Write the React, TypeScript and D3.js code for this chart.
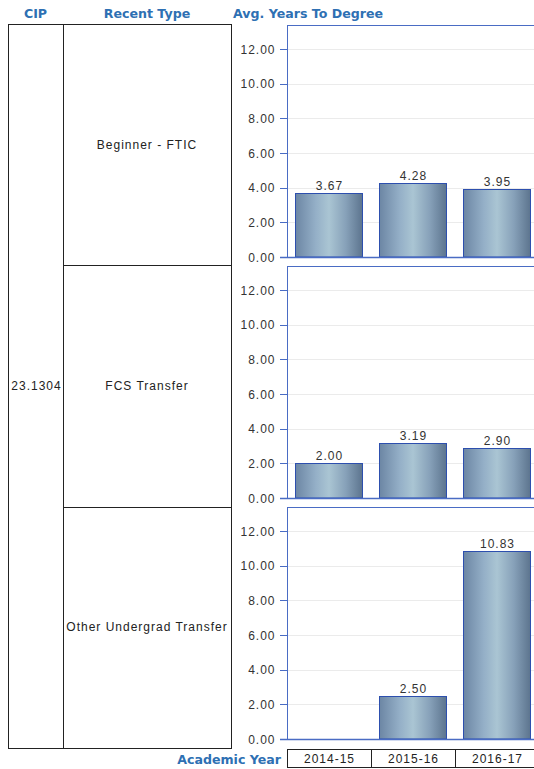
import React from "react";
import * as d3 from "d3";

const cip = "23.1304";
const recentTypes = ["Beginner - FTIC", "FCS Transfer", "Other Undergrad Transfer"];
const years = ["2014-15", "2015-16", "2016-17"];
const beginnerValues: (number | null)[] = [3.67, 4.28, 3.95];
const fcsValues: (number | null)[] = [2.0, 3.19, 2.9];
const otherValues: (number | null)[] = [null, 2.5, 10.83];
const yTicks = [0, 2, 4, 6, 8, 10, 12];

const seriesByType = [beginnerValues, fcsValues, otherValues];

const W = 534;
const H = 769;
const headerBlue = "#2e70b3";
const axisBlue = "#4a6cc4";
const barStroke = "#2d4fae";
const headFont = "DejaVu Sans, Verdana, sans-serif";
const bodyFont = "Liberation Sans, Arial, sans-serif";
const ls = 1;

const tableLeft = 8;
const col1 = 63;
const tableRight = 231;
const tableTop = 24;
const tableBottom = 748;

const panelLeft = 287;
const panelRight = 539;
const panelTops = [25, 266, 507];
const panelH = 232;

export default function App() {
  const x = d3
    .scaleBand<string>()
    .domain(years)
    .range([panelLeft, panelRight])
    .paddingInner(16 / 84)
    .paddingOuter(8 / 84);

  const rowY = d3
    .scaleBand<string>()
    .domain(recentTypes)
    .range([tableTop, tableBottom]);

  return (
    <svg
      width={W}
      height={H}
      style={{ position: "absolute", left: 0, top: 0, overflow: "hidden" }}
      fontFamily={bodyFont}
    >
      <defs>
        <linearGradient id="barGrad" x1="0" x2="1" y1="0" y2="0">
          <stop offset="0" stopColor="#6c86a4" />
          <stop offset="0.3" stopColor="#94afc7" />
          <stop offset="0.5" stopColor="#aac5d3" />
          <stop offset="0.75" stopColor="#87a1b9" />
          <stop offset="1" stopColor="#5c748e" />
        </linearGradient>
      </defs>
      <rect x={0} y={0} width={W} height={H} fill="#fff" />

      {/* headers */}
      <g fontWeight="bold" fontSize={12.6} fill={headerBlue} fontFamily={headFont}>
        <text x={(tableLeft + col1) / 2} y={18} textAnchor="middle">CIP</text>
        <text x={(col1 + tableRight) / 2} y={18} textAnchor="middle">Recent Type</text>
        <text x={233} y={18}>Avg. Years To Degree</text>
        <text x={281} y={764} textAnchor="end">Academic Year</text>
      </g>

      {/* left table */}
      <g stroke="#222" fill="none" strokeWidth={1}>
        <rect
          x={tableLeft + 0.5}
          y={tableTop + 0.5}
          width={tableRight - tableLeft}
          height={tableBottom - tableTop}
        />
        <line x1={col1 + 0.5} x2={col1 + 0.5} y1={tableTop} y2={tableBottom} />
        {recentTypes.slice(1).map((t) => (
          <line
            key={t}
            x1={col1}
            x2={tableRight}
            y1={Math.round(rowY(t)!) + 0.5}
            y2={Math.round(rowY(t)!) + 0.5}
          />
        ))}
      </g>
      <g fontSize={12} fill="#222" letterSpacing={ls}>
        <text x={(tableLeft + col1) / 2 + 1} y={(tableTop + tableBottom) / 2 + 4} textAnchor="middle">
          {cip}
        </text>
        {recentTypes.map((t) => (
          <text
            key={t}
            x={(col1 + tableRight) / 2}
            y={rowY(t)! + rowY.bandwidth() / 2 + 4}
            textAnchor="middle"
          >
            {t}
          </text>
        ))}
      </g>

      {/* panels */}
      {seriesByType.map((vals, i) => {
        const top = panelTops[i];
        const bottom = top + panelH;
        const y = d3.scaleLinear().domain([0, 13.4]).range([bottom, top]);
        return (
          <g key={i}>
            {yTicks.slice(1).map((t) => (
              <line
                key={t}
                x1={panelLeft}
                x2={panelRight}
                y1={Math.round(y(t)) + 0.5}
                y2={Math.round(y(t)) + 0.5}
                stroke="#ebebeb"
              />
            ))}
            <line x1={panelLeft + 0.5} x2={panelLeft + 0.5} y1={top} y2={bottom} stroke={axisBlue} />
            <line x1={panelLeft} x2={panelRight} y1={top + 0.5} y2={top + 0.5} stroke={axisBlue} />
            <line x1={panelRight - 0.5} x2={panelRight - 0.5} y1={top} y2={bottom} stroke={axisBlue} />
            {yTicks.map((t) => (
              <g key={t}>
                <line
                  x1={280}
                  x2={panelLeft}
                  y1={Math.round(y(t)) + 0.5}
                  y2={Math.round(y(t)) + 0.5}
                  stroke={axisBlue}
                />
                <text
                  x={275.5}
                  y={y(t) + 4.5}
                  textAnchor="end"
                  fontSize={12}
                  fill="#333"
                  letterSpacing={ls}
                >
                  {t.toFixed(2)}
                </text>
              </g>
            ))}
            {vals.map((v, j) =>
              v == null ? null : (
                <g key={j}>
                  <rect
                    x={x(years[j])! + 0.5}
                    y={Math.round(y(v)) + 0.5}
                    width={x.bandwidth() - 1}
                    height={bottom - Math.round(y(v)) - 0.5}
                    fill="url(#barGrad)"
                    stroke={barStroke}
                    strokeWidth={1}
                  />
                  <text
                    x={x(years[j])! + x.bandwidth() / 2 + 0.5}
                    y={y(v) - 3}
                    textAnchor="middle"
                    fontSize={12}
                    fill="#333"
                    letterSpacing={ls}
                  >
                    {v.toFixed(2)}
                  </text>
                </g>
              )
            )}
            <line x1={280} x2={panelRight} y1={bottom + 0.5} y2={bottom + 0.5} stroke={axisBlue} strokeWidth={1.5} />
          </g>
        );
      })}

      {/* category axis */}
      {years.map((yr) => {
        const x0 = x(yr)! - x.step() * x.paddingOuter();
        return (
          <g key={yr}>
            <rect
              x={Math.round(x0) + 0.5}
              y={749.5}
              width={x.step()}
              height={18}
              fill="none"
              stroke="#222"
            />
            <text
              x={x(yr)! + x.bandwidth() / 2 + 0.5}
              y={763}
              textAnchor="middle"
              fontSize={12}
              fill="#222"
              letterSpacing={ls}
            >
              {yr}
            </text>
          </g>
        );
      })}
    </svg>
  );
}
